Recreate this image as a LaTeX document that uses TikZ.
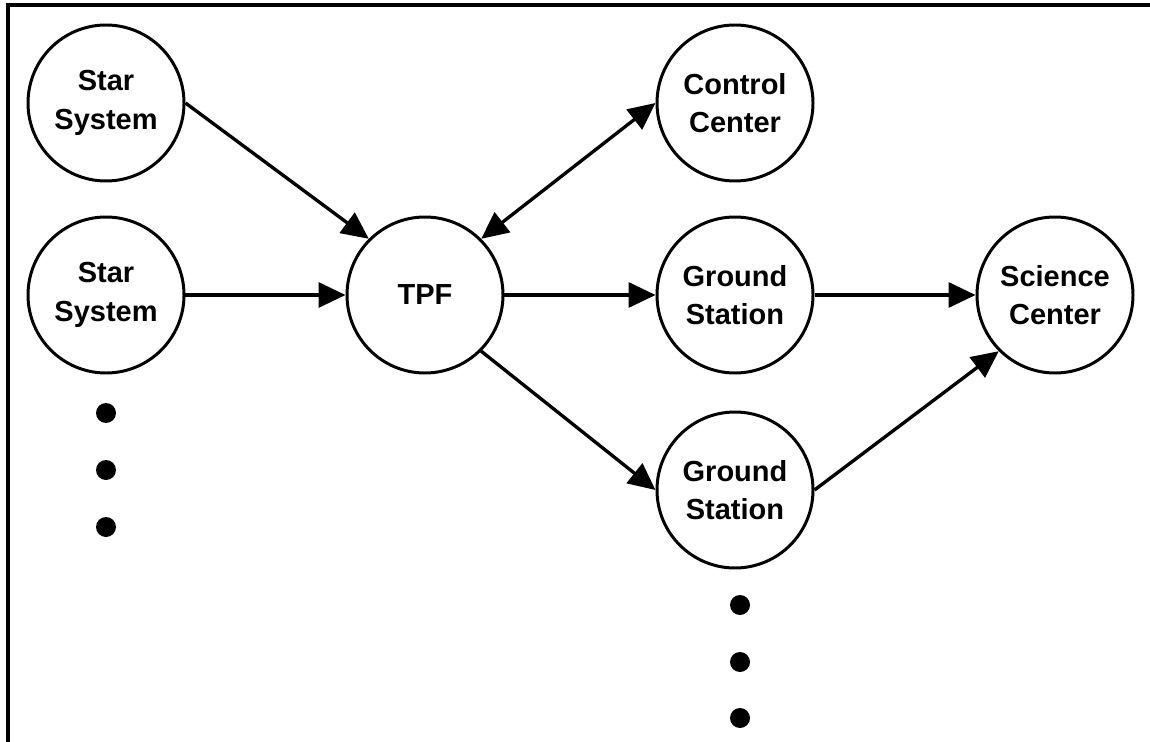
\documentclass[tikz,border=0pt]{standalone}
\usepackage{fontspec}
\setmainfont{Liberation Sans}
\usetikzlibrary{arrows.meta}

\begin{document}
\begin{tikzpicture}[
            > = {Triangle[length=0.54cm, width=0.5cm]}, % arrow head style
            every node/.style = {shape=circle, draw=black, line width=1.7pt,
                minimum size=3.12cm, inner sep=0pt, align=center,
                font=\fontsize{16.5}{22}\selectfont\bfseries},
            line width=1.9pt % line style
        ]
\useasboundingbox (0,0) rectangle (23,-14.84);
% frame on top and left
\draw[line width=2.2pt] (23,-0.1) -- (0.16,-0.1) -- (0.16,-14.84);

\node (S1) at (2.12,-2.06) {Star\\System};
\node (S2) at (2.12,-5.9) {Star\\System};
\node (TPF) at (8.5,-5.9) {TPF};
\node (CC) at (14.7,-2.06) {Control\\Center};
\node (GS1) at (14.7,-5.9) {Ground\\Station};
\node (GS2) at (14.7,-9.8) {Ground\\Station};
\node (SC) at (21.1,-5.9) {Science\\Center};

% dots for more stars and stations
\foreach \y in {-8.26,-9.4,-10.54}
    \fill (2.12,\y) circle (0.2);
\foreach \y in {-12.1,-13.24,-14.36}
    \fill (14.8,\y) circle (0.2);

 \path [->] (S1.east) edge (TPF.north west);
 \path [->] (S2) edge (TPF);
 \path [<->] (TPF.north east) edge (CC.west);
 \path [->] (TPF) edge (GS1);
 \path [->] (TPF.south east) edge (GS2.west);
 \path [->] (GS1) edge (SC);
 \path [->] (GS2.east) edge (SC.south west);

\end{tikzpicture}
\end{document}
